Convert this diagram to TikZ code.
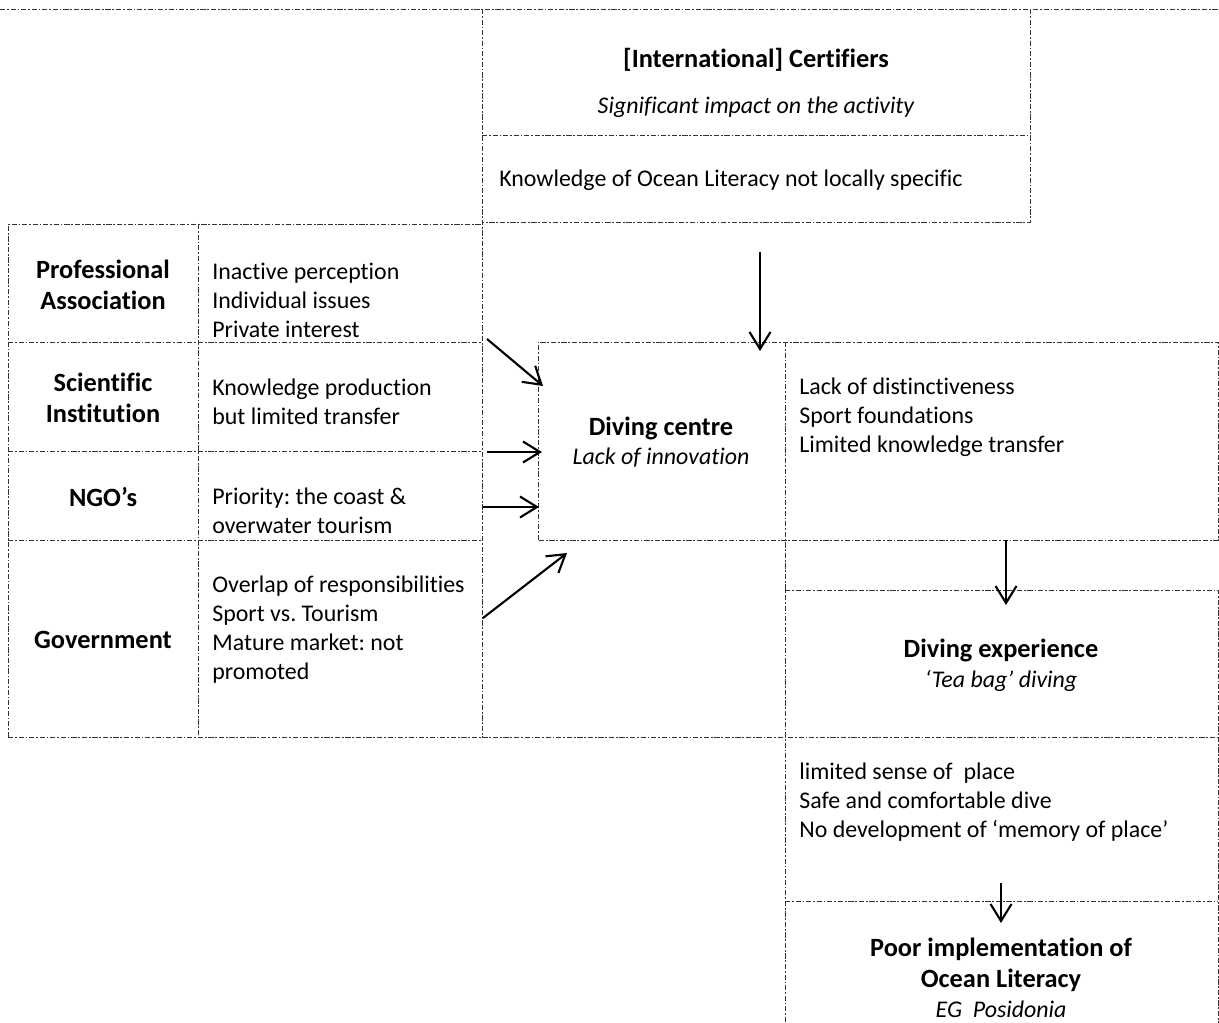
\documentclass[tikz,border=0pt]{standalone}
\usepackage{fontspec}
\setmainfont{Carlito}[Ligatures={TeX,NoCommon}]
\usepackage{tikz}
\usetikzlibrary{arrows.meta,positioning}
\definecolor{gridgray}{rgb}{0.2,0.2,0.2}
\newcommand{\sz}{\fontsize{13.6}{16.5}\selectfont}
\newcommand{\bsz}{\fontsize{15}{18}\selectfont}
\frenchspacing

\begin{document}
\begin{tikzpicture}[x=0.02cm,y=-0.02cm,font=\sz,
   g/.style={draw=gridgray,line width=0.5pt,dash pattern=on 3pt off 1pt on 1pt off 1pt},
   hd/.style={font=\bsz\bfseries,align=center,inner sep=0pt},
   it/.style={font=\sz\itshape,align=center,inner sep=0pt},
   tx/.style={align=left,anchor=west,inner sep=0pt},
   a/.style={-{Straight Barb[length=3.4mm,width=4.2mm]},line width=1.2pt}]
  \useasboundingbox (0,0) rectangle (1219,1023);

  % dotted grid
  \draw[g] (0,9) -- (1219,9);
  \draw[g] (482,9) -- (482,737);
  \draw[g] (1030,9) -- (1030,222) -- (482,222);
  \draw[g] (482,135) -- (1030,135);
  \draw[g] (8,737) -- (8,224) -- (482,224);
  \draw[g] (198,224) -- (198,737);
  \foreach \y in {342,451,540}
    \draw[g] (8,\y) -- (482,\y);
  \draw[g] (8,737) -- (1218,737);
  \draw[g] (538,540) -- (538,342) -- (1218,342) -- (1218,540) -- (538,540);
  \draw[g] (785,342) -- (785,1023);
  \draw[g] (785,590) -- (1218,590) -- (1218,1023);
  \draw[g] (785,901) -- (1218,901);

  % certifiers
  \node[hd] (cert) at (756,60) {[International] Certifiers};
  \node[it,below=27pt of cert.center,anchor=center] (certsub) {Significant impact on the activity};
  \node[tx] (certol) at (499,180) {Knowledge of Ocean Literacy not locally specific};

  % stakeholders
  \node[hd] (prof) at (103,285) {Professional\\Association};
  \node[tx] (proftx) at (212,300) {Inactive perception\\Individual issues\\Private interest};
  \node[hd] (sci) at (103,398) {Scientific\\Institution};
  \node[tx] (scitx) at (212,402) {Knowledge production\\but limited transfer};
  \node[hd] (ngo) at (103,497) {NGO’s};
  \node[tx] (ngotx) at (212,511) {Priority: the coast \&\\overwater tourism};
  \node[hd] (gov) at (103,640) {Government};
  \node[tx] (govtx) at (212,630) {Overlap of responsibilities\\Sport vs. Tourism\\Mature market: not\\promoted};

  % centre and outcomes
  \node[hd] (centre) at (661,428) {Diving centre};
  \node[it] (centresub) at (661,458) {Lack of innovation};
  \node[tx] (centretx) at (799,417) {Lack of distinctiveness\\Sport foundations\\Limited knowledge transfer};
  \node[hd] (exp) at (1001,650) {Diving experience};
  \node[it] (expsub) at (1001,681) {‘Tea bag’ diving};
  \node[tx] (exptx) at (799,802) {limited sense of\ \ place\\Safe and comfortable dive\\No development of ‘memory of place’};
  \node[hd] (poor) at (1001,965) {Poor implementation of\\Ocean Literacy};
  \node[it] (poorsub) at (1001,1009) {EG\ \ Posidonia};

  % arrow ends
  \coordinate (certout) at (760,252);
  \coordinate (centretop) at (760,351);
  \coordinate (profout) at (487,339);
  \coordinate (profin) at (543,386);
  \coordinate (sciout) at (487,452);
  \coordinate (sciin) at (542,452);
  \coordinate (ngoout) at (483,507);
  \coordinate (ngoin) at (539,507);
  \coordinate (govout) at (483,618);
  \coordinate (govin) at (567,553);
  \coordinate (centreout) at (1006,540);
  \coordinate (expin) at (1006,605);
  \coordinate (expout) at (1001,883);
  \coordinate (poorin) at (1001,923);

  \draw[a] (certout) -- (centretop);
  \draw[a] (profout) -- (profin);
  \draw[a] (sciout) -- (sciin);
  \draw[a] (ngoout) -- (ngoin);
  \draw[a] (govout) -- (govin);
  \draw[a] (centreout) -- (expin);
  \draw[a] (expout) -- (poorin);
\end{tikzpicture}
\end{document}
